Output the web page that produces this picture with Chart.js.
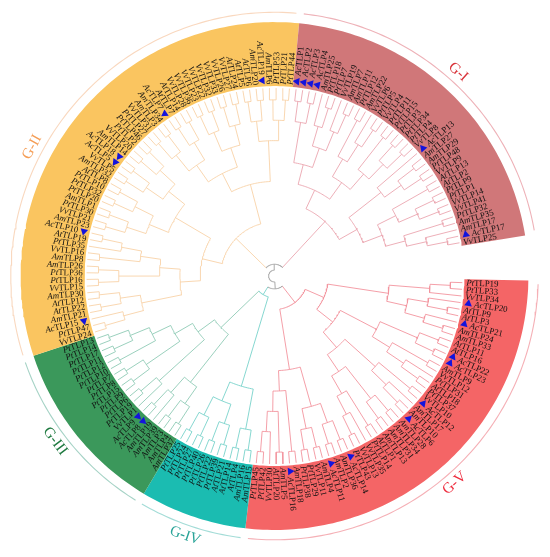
<!DOCTYPE html>
<html>
<head>
<meta charset="utf-8">
<script src="https://cdn.jsdelivr.net/npm/chart.js@4.4.1/dist/chart.umd.min.js"></script>
<style>
  html, body { margin: 0; padding: 0; background: #fff; }
  #wrap { width: 550px; height: 557px; position: relative; }
</style>
</head>
<body>
<div id="wrap"><canvas id="tree"></canvas></div>
<script>
// leaf names, clockwise order inside each group
const leavesGI = ["AcTLP1","AcTLP2","AcTLP3","AcTLP4","AmTLP25","PtTLP18","PtTLP7","VvTLP19","AmTLP7","AmTLP11",
  "PtTLP12","AmTLP22","VvTLP6","PtTLP5","VvTLP4","PtTLP11","PtTLP15","PtTLP3","PtTLP34","PtTLP4",
  "VvTLP8","AcTLP13","AmTLP27","AmTLP29","PtTLP48","VvTLP9","AtTLP13","AtTLP2","PtTLP9","PtTLP1",
  "VvTLP14","VvTLP41","PtTLP32","AmTLP35","AmTLP17","AcTLP17","VvTLP25"];
const leavesGII = ["VvTLP24","PtTLP47","AcTLP15","AmTLP21","AtTLP22","AtTLP12","AmTLP30","VvTLP15","PtTLP16","PtTLP36",
  "AmTLP26","AmTLP8","VvTLP16","PtTLP35","AtTLP19","AcTLP10","AmTLP23","VvTLP21","PtTLP30","AmTLP1",
  "PtTLP20","PtTLP32","PtTLP10","AtTLP8","AmTLP32","VvTLP5","AcTLP5","AcTLP18","AmTLP14","VvTLP20",
  "PtTLP2","PtTLP46","PtTLP27","VvTLP31","AmTLP3","AmTLP34","AcTLP7","AtTLP7","AtTLP14","VvTLP28",
  "VvTLP36","VvTLP23","VvTLP22","VvTLP32","VvTLP33","VvTLP26","VvTLP27","AtTLP24","AtTLP5","AtTLP6",
  "AmTLP20","AcTLP19","AmTLP6","PtTLP53","PtTLP21","PtTLP44"];
const leavesGIII = ["AmTLP37","AmTLP4","AmTLP3","AmTLP39","AmTLP19","AcTLP8","AcTLP9","VvTLP1","PtTLP19","PtTLP6",
  "PtTLP9","PtTLP15","PtTLP8","PtTLP7","PtTLP10","PtTLP12","PtTLP11","PtTLP17","PtTLP14","PtTLP13"];
const leavesGIV = ["AmTLP15","AmTLP16","AtTLP4","AtTLP14","AtTLP21","PtTLP39","PtTLP22","PtTLP26","PtTLP40","PtTLP27",
  "PtTLP24","PtTLP25"];
const leavesGV = ["PtTLP19","PtTLP33","VvTLP34","AcTLP20","AtTLP9","AtTLP3","AcTLP21","AmTLP24","AmTLP33","AtTLP11",
  "AtTLP16","AcTLP22","AcTLP23","AmTLP9","VvTLP12","PtTLP31","AtTLP18","PtTLP37","VvTLP10","AcTLP12",
  "AmTLP17","AmTLP10","AcTLP6","AmTLP28","AmTLP34","AmTLP31","AmTLP13","AtTLP1","PtTLP14","VvTLP35",
  "VvTLP13","PtTLP43","AcTLP14","AmTLP36","AmTLP2","AcTLP11","AmTLP4","VvTLP11","PtTLP29","PtTLP38",
  "AmTLP18","AcTLP16","AmTLP5","AtTLP20","VvTLP30","PtTLP42","PtTLP45"];

// tree shapes, numbers are leaf positions inside the group
const treeGI = "(((((0,1),(2,3)),((4,(5,6)),(7,(8,9)))),(((10,11),(12,(13,14))),((15,16),((17,18),(19,20))))),((21,((22,23),(24,25))),(((26,27),((28,29),(30,31))),((32,33),(34,(35,36))))))";
const treeGII = "((((((0,1),2),((3,4),(5,6))),(((7,8),(9,10)),((11,12),(13,(14,15))))),((((16,17),(18,19)),((20,21),(22,23))),(((24,25),(26,27)),((28,29),(30,31))))),(((((32,33),(34,35)),((36,37),(38,39))),(((40,41),(42,43)),((44,45),(46,47)))),(((48,49),(50,51)),((52,53),(54,55)))))";
const treeGIII = "((((0,1),(2,3)),(4,(5,6))),((7,(8,9)),(((10,11),(12,13)),((14,15),((16,17),(18,19))))))";
const treeGIV = "(((0,1),(2,3)),(((4,5),(6,7)),((8,9),(10,11))))";
const treeGV = "(((((0,1),2),((3,(4,5)),(6,(7,8)))),((((9,10),(11,12)),((13,14),(15,(16,17)))),(((18,19),(20,(21,22))),(((23,24),(25,26)),((27,28),(29,(30,31))))))),((((32,33),(34,35)),((36,37),(38,39))),((40,41),((42,43),(44,(45,46))))))";

const groupNames = ["G-I", "G-II", "G-III", "G-IV", "G-V"];
const slotOrder = ["G-V", "G-IV", "G-III", "G-II", "G-I"]; // clockwise from the right side
const gapSlots = 5; // empty gap between G-I and G-V

// layout
const START = 91, RTIP = 191, BAND_IN = 193, BAND_OUT = 258, RING = 268;
const bandColor = { "G-I": "#d07779", "G-II": "#fac560", "G-III": "#3b985b", "G-IV": "#1bbcb1", "G-V": "#f46566" };
const lineColor = { "G-I": "#eba6b0", "G-II": "#f8d2a8", "G-III": "#8fcbb6", "G-IV": "#78d3cb", "G-V": "#f3949e", root: "#a0a0a0" };
const ringColor = { "G-I": "#eeb2b8", "G-II": "#f9d8bf", "G-III": "#a6d3c6", "G-IV": "#a3dcd7", "G-V": "#f5b0b6" };
const titleColor = { "G-I": "#d9333a", "G-II": "#f59d55", "G-III": "#1f7a40", "G-IV": "#2aa498", "G-V": "#ee2c3e" };
const titleAngle = { "G-I": 42, "G-II": 298, "G-III": 233, "G-IV": 199, "G-V": 139 };

const groups = {
  "G-I": { leaves: leavesGI, tree: treeGI },
  "G-II": { leaves: leavesGII, tree: treeGII },
  "G-III": { leaves: leavesGIII, tree: treeGIII },
  "G-IV": { leaves: leavesGIV, tree: treeGIV },
  "G-V": { leaves: leavesGV, tree: treeGV }
};

let totalSlots = gapSlots;
groupNames.forEach(g => totalSlots += groups[g].leaves.length);
const step = 360 / totalSlots;

function pt(a, r) {
  const t = a * Math.PI / 180;
  return { x: r * Math.sin(t), y: r * Math.cos(t) };
}

// assign angles to leaves
const leafInfo = [];
let slot = 0;
slotOrder.forEach(g => {
  const grp = groups[g];
  grp.first = slot;
  grp.start = START + slot * step;
  grp.leaves.forEach((name, i) => {
    leafInfo.push({ name: name, group: g, angle: START + (slot + i + 0.5) * step });
  });
  slot += grp.leaves.length;
  grp.end = START + slot * step;
});

function build(node, g) {
  if (typeof node === "number") {
    return { h: 0, group: g, angle: START + (groups[g].first + node + 0.5) * step };
  }
  return join(node.map(c => build(c, g)), g);
}
function join(kids, g, fixedR) {
  return {
    children: kids,
    group: g,
    fixedR: fixedR,
    h: 1 + Math.max(...kids.map(k => k.h)),
    angle: (kids[0].angle + kids[kids.length - 1].angle) / 2
  };
}
const sub = {};
groupNames.forEach(g => {
  sub[g] = build(JSON.parse(groups[g].tree.replace(/\(/g, "[").replace(/\)/g, "]")), g);
});
// the root joins the five groups close to the centre
const root = join([
  join([sub["G-V"], join([sub["G-IV"], sub["G-III"]], "G-IV", 22)], null, 13),
  join([sub["G-II"], sub["G-I"]], null, 12)
], null, 6);

const maxH = Math.max(...groupNames.map(g => sub[g].h));
const dr = (RTIP - 12 - 34) / (maxH - 1);
function radius(n) {
  if (n.fixedR) return n.fixedR;
  return n.h === 0 ? RTIP : RTIP - 12 - (n.h - 1) * dr;
}

// branch polylines, NaN breaks the line between pieces
const lines = { root: [] };
groupNames.forEach(g => lines[g] = []);
function arcPts(a1, a2, r) {
  const out = [];
  const n = Math.max(2, Math.ceil(Math.abs(a2 - a1)));
  for (let i = 0; i <= n; i++) out.push(pt(a1 + (a2 - a1) * i / n, r));
  return out;
}
function walk(n) {
  if (!n.children) return;
  const r = radius(n);
  const key = n.group || "root";
  const a1 = n.children[0].angle, a2 = n.children[n.children.length - 1].angle;
  lines[key].push(...arcPts(a1, a2, r), { x: NaN, y: NaN });
  n.children.forEach(c => {
    const ck = c.group || "root";
    lines[ck].push(pt(c.angle, r), pt(c.angle, radius(c)), { x: NaN, y: NaN });
    walk(c);
  });
}
walk(root);

const datasets = [];
// coloured bands
groupNames.forEach(g => {
  const grp = groups[g];
  const pts = arcPts(grp.start, grp.end, BAND_OUT).concat(arcPts(grp.end, grp.start, BAND_IN));
  pts.push(pts[0]);
  datasets.push({
    data: pts, showLine: true, fill: "shape", backgroundColor: bandColor[g],
    borderWidth: 0, borderColor: "rgba(0,0,0,0)", pointRadius: 0, order: 10
  });
});
// outer thin arcs
groupNames.forEach(g => {
  const grp = groups[g];
  datasets.push({
    data: arcPts(grp.start + 0.8, grp.end - 0.8, RING), showLine: true, fill: false,
    borderColor: ringColor[g], borderWidth: 1.1, pointRadius: 0, order: 6
  });
});
// tree branches
Object.keys(lines).forEach(k => {
  datasets.push({
    data: lines[k], showLine: true, fill: false, spanGaps: false,
    borderColor: lineColor[k], borderWidth: 0.9, pointRadius: 0, order: 5
  });
});
// blue triangles on the Ac genes
const acLeaves = leafInfo.filter(l => l.name.startsWith("Ac"));
datasets.push({
  data: acLeaves.map(l => pt(l.angle, 199)),
  showLine: false, pointStyle: "triangle", pointRadius: 4.4,
  pointRotation: acLeaves.map(l => l.angle - 90),
  backgroundColor: "#1414dc", borderColor: "#1414dc", borderWidth: 0, order: 0
});

const labelPlugin = {
  id: "leafLabels",
  afterDatasetsDraw(chart) {
    const { ctx, scales } = chart;
    const cx = scales.x.getPixelForValue(0), cy = scales.y.getPixelForValue(0);
    const k = scales.x.getPixelForValue(1) - cx;
    const fIt = 'italic 8.8px "Liberation Serif"', fNo = '8.8px "Liberation Serif"';
    ctx.save();
    ctx.fillStyle = "#111";
    ctx.textBaseline = "middle";
    ctx.textAlign = "left";
    leafInfo.forEach(l => {
      const r0 = (l.name.startsWith("Ac") ? 205 : 195) * k;
      const pre = l.name.slice(0, 2), rest = l.name.slice(2);
      ctx.font = fIt;
      const w1 = ctx.measureText(pre).width;
      ctx.font = fNo;
      const w2 = ctx.measureText(rest).width;
      const a = ((l.angle % 360) + 360) % 360;
      ctx.save();
      ctx.translate(cx, cy);
      let x0;
      if (a < 180) {
        ctx.rotate((a - 90) * Math.PI / 180);
        x0 = r0;
      } else {
        ctx.rotate((a + 90) * Math.PI / 180);
        x0 = -r0 - w1 - w2;
      }
      ctx.font = fIt;
      ctx.fillText(pre, x0, 0.5);
      ctx.font = fNo;
      ctx.fillText(rest, x0 + w1, 0.5);
      ctx.restore();
    });
    // group titles
    ctx.font = '15px "Liberation Serif"';
    ctx.textAlign = "center";
    groupNames.forEach(g => {
      const a = titleAngle[g];
      const p = pt(a, 279);
      ctx.save();
      ctx.translate(scales.x.getPixelForValue(p.x), scales.y.getPixelForValue(p.y));
      const rot = (a > 90 && a < 270) ? a - 180 : a;
      ctx.rotate(rot * Math.PI / 180);
      ctx.fillStyle = titleColor[g];
      ctx.fillText(g, 0, 0);
      ctx.restore();
    });
    ctx.restore();
  }
};

new Chart(document.getElementById("tree"), {
  type: "scatter",
  data: { datasets: datasets },
  options: {
    responsive: true,
    maintainAspectRatio: false,
    animation: false,
    layout: { padding: 0 },
    plugins: { legend: { display: false }, tooltip: { enabled: false } },
    scales: {
      x: { type: "linear", min: -274.5, max: 275.5, display: false },
      y: { type: "linear", min: -281, max: 276, display: false }
    }
  },
  plugins: [labelPlugin]
});
</script>
</body>
</html>
